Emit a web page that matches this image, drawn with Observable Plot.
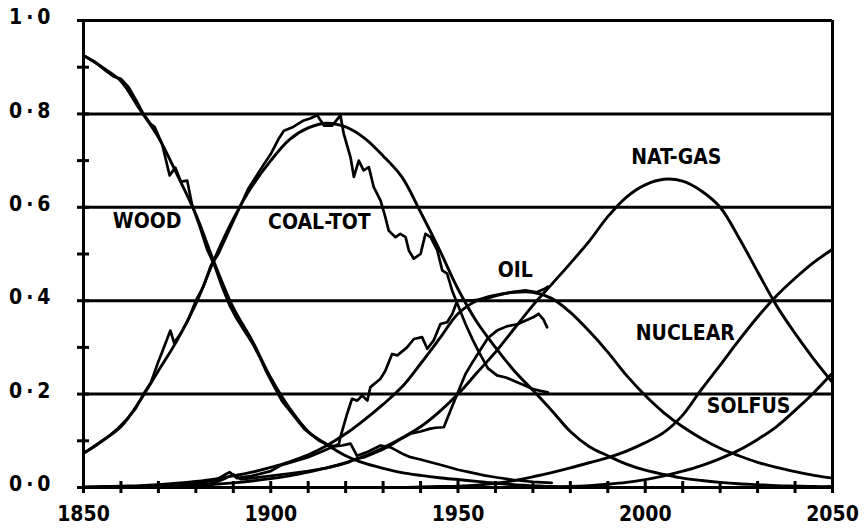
<!DOCTYPE html>
<html><head><meta charset="utf-8">
<script src="https://cdn.jsdelivr.net/npm/d3@7"></script>
<script src="https://cdn.jsdelivr.net/npm/@observablehq/plot@0.6"></script>
<style>
html,body{margin:0;padding:0;background:#fff;}
#chart svg{display:block;}
g[aria-label="y-axis tick label"] text{letter-spacing:4px;}
</style></head><body><div id="chart"></div>
<script>
// ---- smooth (model) curves, 5-year steps ----
const years = [1850,1855,1860,1865,1870,1875,1880,1885,1890,1895,1900,1905,1910,1915,1920,1925,1930,1935,1940,1945,1950,1955,1960,1965,1970,1975,1980,1985,1990,1995,2000,2005,2010,2015,2020,2025,2030,2035,2040,2045,2050];
const wood    = [0.925,0.90,0.87,0.81,0.75,0.67,0.585,0.48,0.385,0.315,0.235,0.17,0.12,0.092,0.068,0.052,0.041,0.032,0.026,0.021,0.017,0.013,0.009,0.006,0.004,0.002,0.001,0,0,0,0,0,0,0,0,0,0,0,0,0,0];
const coal    = [0.073,0.10,0.13,0.185,0.25,0.315,0.393,0.49,0.575,0.645,0.70,0.745,0.77,0.78,0.772,0.748,0.71,0.665,0.59,0.51,0.425,0.355,0.30,0.25,0.208,0.165,0.12,0.088,0.068,0.05,0.037,0.028,0.02,0.015,0.011,0.008,0.006,0.004,0.003,0.002,0.002];
const oil     = [0.001,0.002,0.003,0.004,0.006,0.009,0.013,0.018,0.025,0.033,0.043,0.055,0.07,0.09,0.115,0.145,0.178,0.215,0.265,0.318,0.372,0.40,0.412,0.418,0.418,0.405,0.375,0.335,0.29,0.24,0.197,0.16,0.13,0.105,0.084,0.068,0.054,0.043,0.034,0.026,0.02];
const natgas  = [0,0.001,0.001,0.002,0.002,0.003,0.005,0.007,0.01,0.014,0.019,0.025,0.033,0.042,0.053,0.067,0.085,0.106,0.13,0.162,0.2,0.245,0.29,0.34,0.39,0.435,0.48,0.527,0.58,0.622,0.648,0.66,0.656,0.635,0.60,0.535,0.462,0.39,0.33,0.275,0.225];
const nuclear = [0,0,0,0,0,0,0,0,0,0,0,0,0,0,0,0,0,0,0.001,0.002,0.003,0.005,0.009,0.015,0.023,0.032,0.042,0.053,0.064,0.078,0.096,0.118,0.155,0.21,0.262,0.315,0.365,0.41,0.448,0.482,0.51];
const solfus  = [0,0,0,0,0,0,0,0,0,0,0,0,0,0,0,0,0,0,0,0,0,0,0,0,0,0.001,0.002,0.004,0.007,0.011,0.017,0.025,0.035,0.047,0.062,0.08,0.103,0.13,0.165,0.203,0.245];

// ---- historical data (wiggly) ----
const woodDataYears = [1850,1853,1856,1858,1860,1862,1864,1866,1868,1869,1871,1873,1874.5,1876,1877.7,1879,1881,1883,1885,1887,1889,1891,1893,1895,1897,1899,1901,1903,1905,1907,1909,1911,1913,1915,1917,1919,1921.3,1923,1925.8,1929.3,1932,1935,1937.3,1940,1942.7,1946,1950,1953,1957,1960,1965,1970,1975];
const woodDataValues = [0.925,0.912,0.892,0.88,0.875,0.858,0.83,0.80,0.778,0.772,0.735,0.668,0.685,0.655,0.657,0.605,0.56,0.51,0.475,0.43,0.39,0.36,0.335,0.31,0.28,0.245,0.215,0.185,0.165,0.145,0.125,0.112,0.10,0.092,0.088,0.09,0.094,0.068,0.076,0.09,0.086,0.073,0.065,0.06,0.054,0.047,0.038,0.033,0.026,0.022,0.016,0.012,0.01];

const coalDataYears = [1850,1853,1856,1859,1862,1864,1866,1868,1870,1871,1873.2,1874.2,1876,1878,1880,1882,1884,1886,1888,1890,1892,1894,1896,1898,1900,1902,1903.5,1906,1908.8,1910.5,1912.4,1914.2,1916.4,1918.6,1919.5,1921.3,1922.2,1923.5,1924.8,1926.2,1927.5,1929.3,1930.6,1931.5,1933.3,1934.6,1936,1936.9,1938.2,1940,1941.3,1942.7,1944.5,1945.8,1947.1,1948.5,1950,1952,1954,1955.6,1958,1960.4,1963,1965,1968,1970,1972,1974];
const coalDataValues = [0.073,0.088,0.105,0.125,0.15,0.17,0.2,0.225,0.27,0.29,0.336,0.31,0.33,0.36,0.40,0.43,0.475,0.50,0.535,0.57,0.605,0.64,0.665,0.69,0.714,0.745,0.764,0.772,0.786,0.79,0.797,0.775,0.775,0.797,0.757,0.707,0.665,0.70,0.679,0.686,0.643,0.615,0.579,0.55,0.536,0.543,0.536,0.507,0.49,0.50,0.543,0.536,0.507,0.465,0.458,0.42,0.39,0.35,0.315,0.29,0.255,0.24,0.235,0.228,0.218,0.211,0.207,0.204];

const oilDataYears = [1860,1870,1880,1885,1889,1891,1895,1900,1902.6,1906,1910,1914,1918.2,1918.6,1920.4,1921.7,1923.1,1924.4,1925.8,1926.6,1929.3,1930.6,1932.4,1933.8,1936.4,1938.2,1940.4,1941.8,1943.5,1945.3,1947.1,1948.5,1949.8,1953,1957,1960,1964,1968,1971,1973,1974];
const oilDataValues = [0,0.003,0.01,0.015,0.033,0.02,0.025,0.035,0.047,0.055,0.065,0.078,0.093,0.108,0.158,0.19,0.186,0.197,0.186,0.215,0.233,0.25,0.286,0.283,0.30,0.318,0.322,0.297,0.315,0.35,0.354,0.372,0.40,0.40,0.403,0.41,0.418,0.422,0.418,0.425,0.43];

const gasDataYears = [1880,1885,1888,1890,1892,1895,1900,1905,1910,1915,1918,1920.8,1922,1925,1929.3,1932,1935,1937.3,1940,1942.6,1944,1946.2,1948,1949.8,1952,1954,1955.6,1958,1960.4,1963,1966,1970.2,1971.5,1972.8,1973.8];
const gasDataValues = [0.005,0.01,0.02,0.028,0.018,0.02,0.025,0.03,0.035,0.042,0.048,0.054,0.06,0.065,0.079,0.09,0.105,0.115,0.12,0.126,0.128,0.129,0.165,0.2,0.243,0.27,0.29,0.32,0.336,0.345,0.35,0.365,0.372,0.36,0.343];

// ---- axis ticks and labels ----
const yMajorTicks = [0,0.2,0.4,0.6,0.8,1.0];
const yMinorTicks = [0,0.1,0.2,0.3,0.4,0.5,0.6,0.7,0.8,0.9,1.0];
const xMajorTicks = [1850,1900,1950,2000,2050];
const xMinorTicks = [1850,1860,1870,1880,1890,1900,1910,1920,1930,1940,1950,1960,1970,1980,1990,2000,2010,2020,2030,2040,2050];

const labelNames  = ["WOOD","COAL-TOT","OIL","NAT-GAS","NUCLEAR","SOLFUS"];
const labelYears  = [1867,1913,1965.3,2008.3,2010.7,2027.6];
const labelShares = [0.571,0.567,0.465,0.707,0.33,0.173];

// ---- build tables ----
const smoothSeries = [["WOOD",wood],["COAL",coal],["OIL",oil],["NATGAS",natgas],["NUCLEAR",nuclear],["SOLFUS",solfus]];
const smoothRows = smoothSeries.flatMap(([name, vals]) => years.map((yr, i) => ({name, year: yr, share: vals[i]})));
const dataSeries = [["wood",woodDataYears,woodDataValues],["coal",coalDataYears,coalDataValues],["oil",oilDataYears,oilDataValues],["gas",gasDataYears,gasDataValues]];
const dataRows = dataSeries.flatMap(([name, ys, vs]) => ys.map((yr, i) => ({name, year: yr, share: vs[i]})));
const labelRows = labelNames.map((n, i) => ({name: n, year: labelYears[i], share: labelShares[i]}));

const fontFam = '"DejaVu Sans Condensed","DejaVu Sans",sans-serif';
const ink = "#000";

const chart = Plot.plot({
  width: 865,
  height: 531,
  marginLeft: 83,
  marginRight: 33,
  marginTop: 20,
  marginBottom: 44,
  x: {domain: [1850, 2050]},
  y: {domain: [0, 1]},
  style: {fontFamily: fontFam, background: "#fff", color: ink},
  marks: [
    Plot.ruleY(yMajorTicks, {stroke: ink, strokeWidth: 3}),
    Plot.ruleX([1850, 2050], {stroke: ink, strokeWidth: 3}),
    Plot.axisY(yMinorTicks, {tickSize: 12, dx: 6, fill: "none", stroke: ink, strokeWidth: 3}),
    Plot.axisX(xMinorTicks, {tickSize: 12, dy: -6, fill: "none", stroke: ink, strokeWidth: 3}),
    Plot.axisY(yMajorTicks, {tickSize: 0, tickPadding: 29, dy: -3, label: null, fontSize: 21, fontWeight: "bold", fill: ink,
      tickFormat: d => d.toFixed(1).replace(".", "·")}),
    Plot.axisX(xMajorTicks, {tickSize: 0, tickPadding: 19, label: null, fontSize: 21, fontWeight: "bold", fill: ink,
      tickFormat: d => String(d)}),
    Plot.line(smoothRows, {x: "year", y: "share", z: "name", curve: "catmull-rom", stroke: ink, strokeWidth: 2.9}),
    Plot.line(dataRows, {x: "year", y: "share", z: "name", curve: "linear", stroke: ink, strokeWidth: 2.7, strokeLinejoin: "round"}),
    Plot.text(labelRows, {x: "year", y: "share", text: "name", fontSize: 21, fontWeight: "bold", fill: ink, fontFamily: fontFam})
  ]
});
document.getElementById("chart").appendChild(chart);
</script>
</body></html>
